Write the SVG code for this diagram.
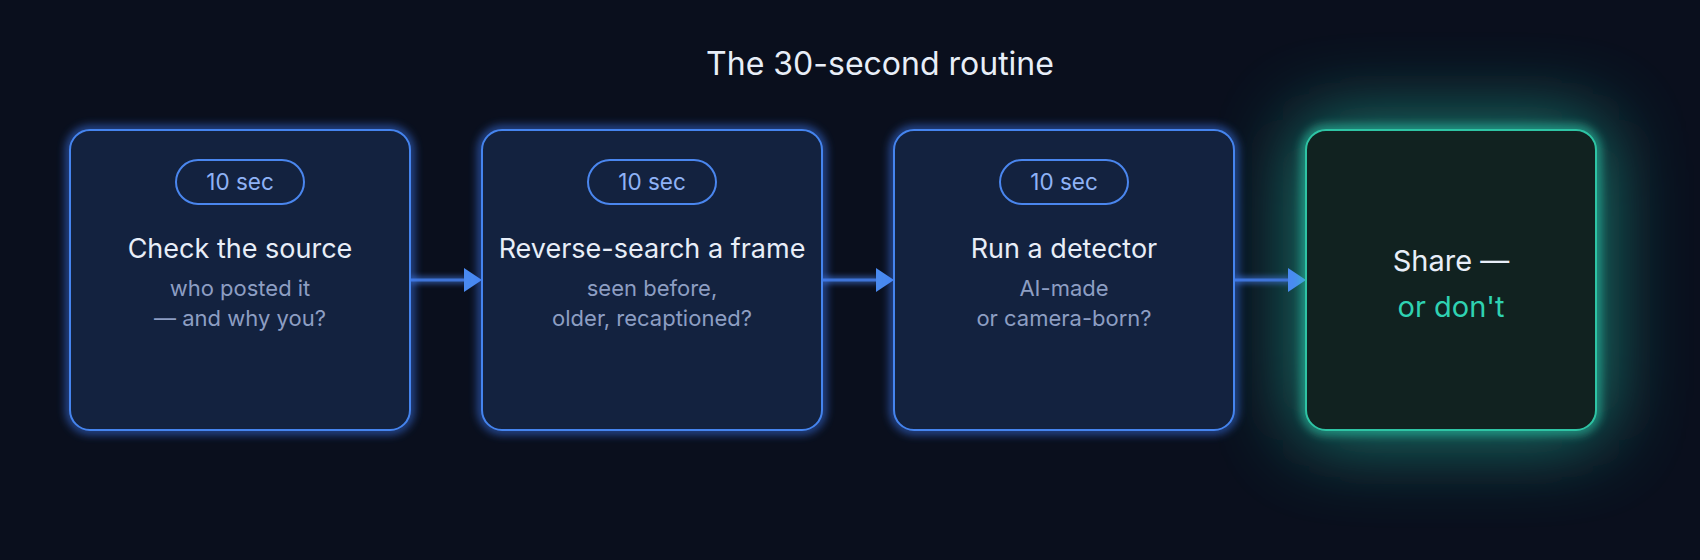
<svg xmlns="http://www.w3.org/2000/svg" width="1700" height="560" viewBox="0 0 1700 560">
  <defs>
    <style>
      .box { fill: #13223f; stroke: #4584ee; stroke-width: 2; }
      .glow { fill: none; stroke: #3f7fff; stroke-width: 7; opacity: 0.7; }
      .pill { fill: none; stroke: #4a86ee; stroke-width: 2; }
      .pilltxt { font-family: Inter, "Liberation Sans", sans-serif; font-size: 22.5px; fill: #8fb2f6; text-anchor: middle; }
      .title { font-family: Inter, "Liberation Sans", sans-serif; font-size: 27px; fill: #e8eef8; text-anchor: middle; }
      .sub { font-family: Inter, "Liberation Sans", sans-serif; font-size: 22px; fill: #8d9ec3; text-anchor: middle; }
      .conn { stroke: #3f74d8; stroke-width: 3; fill: none; }
      .connglow { stroke: #3d72d6; stroke-width: 8; fill: none; opacity: 0.55; }
      .head { fill: #4a8af0; }
    </style>
    <filter id="blur" x="-20%" y="-20%" width="140%" height="140%">
      <feGaussianBlur stdDeviation="5"/>
    </filter>
    <filter id="blurS" filterUnits="userSpaceOnUse" x="0" y="250" width="1700" height="60">
      <feGaussianBlur stdDeviation="2.5"/>
    </filter>
    <filter id="halo" filterUnits="userSpaceOnUse" x="1000" y="-200" width="800" height="960">
      <feGaussianBlur stdDeviation="40"/>
    </filter>
  </defs>

  <rect x="0" y="0" width="1700" height="560" fill="#0a0f1d"/>

  <!-- teal halo behind final box -->
  <rect x="1296" y="120" width="310" height="320" rx="30" fill="#24a892" opacity="0.75" filter="url(#halo)"/>

  <text x="880" y="75" font-family="Inter, 'Liberation Sans', sans-serif" font-size="32" fill="#e8eef8" text-anchor="middle">The 30-second routine</text>

  <g id="connectors">
    <line class="connglow" x1="410" y1="280" x2="466" y2="280" filter="url(#blurS)"/>
    <line class="conn" x1="410" y1="280" x2="466" y2="280"/>
    <polygon class="head" points="464,268 482,280 464,292"/>

    <line class="connglow" x1="822" y1="280" x2="878" y2="280" filter="url(#blurS)"/>
    <line class="conn" x1="822" y1="280" x2="878" y2="280"/>
    <polygon class="head" points="876,268 894,280 876,292"/>

    <line class="connglow" x1="1234" y1="280" x2="1290" y2="280" filter="url(#blurS)"/>
    <line class="conn" x1="1234" y1="280" x2="1290" y2="280"/>
    <polygon class="head" points="1288,268 1306,280 1288,292"/>
  </g>

  <g id="node1">
    <rect class="glow" x="70" y="130" width="340" height="300" rx="20" filter="url(#blur)"/>
    <rect class="box" x="70" y="130" width="340" height="300" rx="20"/>
    <rect class="pill" x="176" y="160" width="128" height="44" rx="22"/>
    <text class="pilltxt" x="240" y="190">10 sec</text>
    <text class="title" x="240" y="258">Check the source</text>
    <text class="sub" x="240" y="296">who posted it</text>
    <text class="sub" x="240" y="326">— and why you?</text>
  </g>

  <g id="node2">
    <rect class="glow" x="482" y="130" width="340" height="300" rx="20" filter="url(#blur)"/>
    <rect class="box" x="482" y="130" width="340" height="300" rx="20"/>
    <rect class="pill" x="588" y="160" width="128" height="44" rx="22"/>
    <text class="pilltxt" x="652" y="190">10 sec</text>
    <text class="title" x="652" y="258">Reverse-search a frame</text>
    <text class="sub" x="652" y="296">seen before,</text>
    <text class="sub" x="652" y="326">older, recaptioned?</text>
  </g>

  <g id="node3">
    <rect class="glow" x="894" y="130" width="340" height="300" rx="20" filter="url(#blur)"/>
    <rect class="box" x="894" y="130" width="340" height="300" rx="20"/>
    <rect class="pill" x="1000" y="160" width="128" height="44" rx="22"/>
    <text class="pilltxt" x="1064" y="190">10 sec</text>
    <text class="title" x="1064" y="258">Run a detector</text>
    <text class="sub" x="1064" y="296">AI-made</text>
    <text class="sub" x="1064" y="326">or camera-born?</text>
  </g>

  <g id="node4">
    <rect x="1306" y="130" width="290" height="300" rx="20" fill="none" stroke="#2fd6b4" stroke-width="10" opacity="0.55" filter="url(#blur)"/>
    <rect x="1306" y="130" width="290" height="300" rx="20" fill="#112220" stroke="#2ec4a4" stroke-width="2"/>
    <text x="1451" y="271" font-family="Inter, 'Liberation Sans', sans-serif" font-size="29" fill="#e8eef8" text-anchor="middle">Share —</text>
    <text x="1451" y="317" font-family="Inter, 'Liberation Sans', sans-serif" font-size="29" fill="#2fd2b2" text-anchor="middle">or don't</text>
  </g>
</svg>
